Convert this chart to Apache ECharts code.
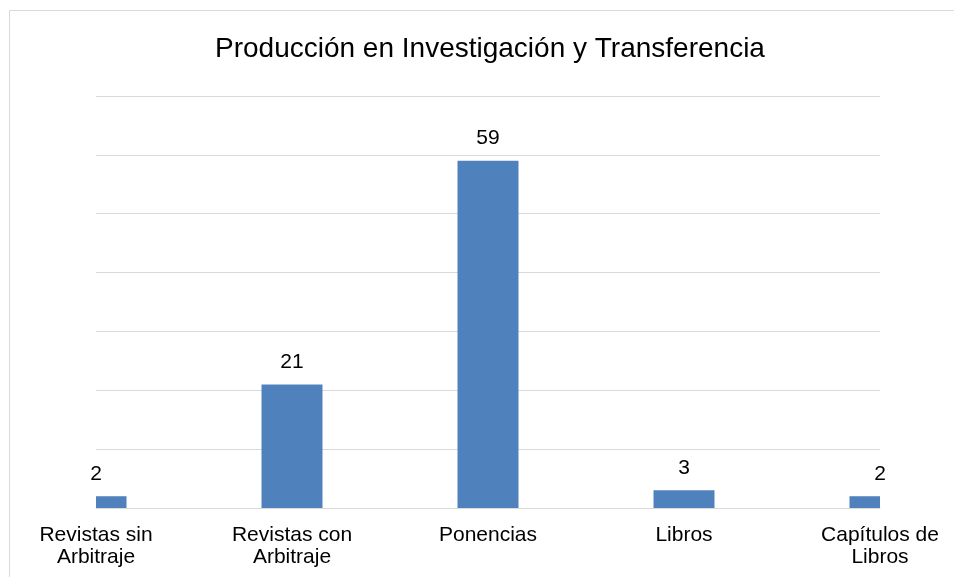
<!DOCTYPE html>
<html>
<head>
<meta charset="utf-8">
<script src="https://cdn.jsdelivr.net/npm/echarts@6/dist/echarts.min.js"></script>
<style>
  html, body { margin: 0; padding: 0; background: #fff; }
  #chart { width: 954px; height: 577px; }
</style>
</head>
<body>
<div id="chart"></div>
<script>
// Research and transfer output by publication type
const categories = [
  'Revistas sin\nArbitraje',
  'Revistas con\nArbitraje',
  'Ponencias',
  'Libros',
  'Capítulos de\nLibros'
];
const counts = [2, 21, 59, 3, 2];
const yMax = 70;
const yStep = 10;

const chart = echarts.init(document.getElementById('chart'), null, { renderer: 'canvas' });
const font = 'Arial, "Liberation Sans", sans-serif';
const BAR_W = 61;

// Bars are drawn by a custom series so they are cut at the plot edges
// (the first and last categories sit on the grid boundary).
function renderBar(params, api) {
  const idx = api.value(0);
  const val = api.value(1);
  const top = api.coord([idx, val]);
  const base = api.coord([idx, 0]);
  const rect = echarts.graphic.clipRectByRect({
    x: top[0] - BAR_W / 2,
    y: top[1],
    width: BAR_W,
    height: base[1] - top[1]
  }, {
    x: params.coordSys.x,
    y: params.coordSys.y,
    width: params.coordSys.width,
    height: params.coordSys.height
  });
  return rect && {
    type: 'rect',
    shape: rect,
    style: { fill: '#4f81bd' }
  };
}

chart.setOption({
  animation: false,
  backgroundColor: '#ffffff',
  title: {
    text: 'Producción en Investigación y Transferencia',
    left: 210,
    top: 30,
    textStyle: { fontFamily: font, fontSize: 28, fontWeight: 'normal', color: '#000000' }
  },
  graphic: [{
    type: 'rect',
    shape: { x: 9.5, y: 10.5, width: 960, height: 600 },
    style: { fill: null, stroke: '#d9d9d9', lineWidth: 1 },
    silent: true
  }],
  grid: { left: 96, right: 74, top: 96, bottom: 69, containLabel: false },
  xAxis: {
    type: 'category',
    data: categories,
    boundaryGap: false,
    axisLine: { show: true, lineStyle: { color: '#d9d9d9', width: 1 } },
    axisTick: { show: false },
    axisLabel: {
      fontFamily: font, fontSize: 21, color: '#000000',
      lineHeight: 22, margin: 16, interval: 0
    },
    splitLine: { show: false }
  },
  yAxis: {
    type: 'value',
    min: 0,
    max: yMax,
    interval: yStep,
    axisLine: { show: false },
    axisTick: { show: false },
    axisLabel: { show: false },
    splitLine: { lineStyle: { color: '#d9d9d9', width: 1 } }
  },
  series: [{
    // value labels centred over each category
    type: 'bar',
    data: counts,
    barWidth: BAR_W,
    itemStyle: { color: 'rgba(0,0,0,0)' },
    label: {
      show: true,
      position: 'top',
      distance: 12,
      fontFamily: font,
      fontSize: 21,
      color: '#000000'
    },
    z: 3
  }, {
    type: 'custom',
    renderItem: renderBar,
    data: counts.map((v, i) => [i, v]),
    encode: { x: 0, y: 1 },
    z: 2
  }]
});
</script>
</body>
</html>
